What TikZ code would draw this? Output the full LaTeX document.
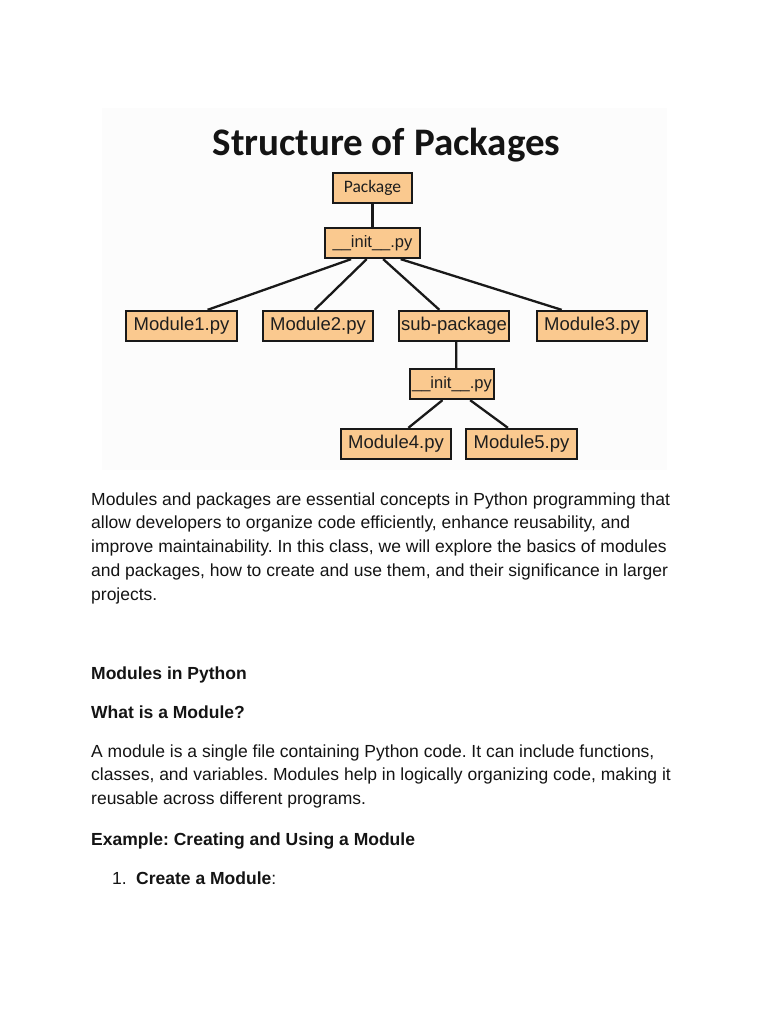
\documentclass[tikz,border=0pt]{standalone}
\usepackage{fontspec}
\setmainfont{Liberation Sans}
\newfontfamily\carlito{Carlito}
\usetikzlibrary{calc}
\definecolor{boxfill}{RGB}{250,201,143}
\definecolor{txt}{RGB}{20,20,20}
\definecolor{boxtxt}{RGB}{30,30,30}
\frenchspacing
\begin{document}
\begin{tikzpicture}[x=1pt,y=-1pt,
  box/.style={draw=black!90, line width=2.3pt, fill=boxfill, inner sep=0pt, minimum height=30pt, text=boxtxt, font=\fontsize{18.5}{20}\selectfont},
  link/.style={line width=2.3pt, draw=black!90},
  para/.style={anchor=base west, inner sep=0pt, text=txt, font=\fontsize{17.5}{20}\selectfont},
  head/.style={para, font=\fontsize{17.5}{20}\selectfont\bfseries}]
\useasboundingbox (0,0) rectangle (768,1024);
\fill[white] (0,0) rectangle (768,1024);
\fill[black!1.2] (102,108) rectangle (667,470);
% title
\node[anchor=base, inner sep=0pt, text=txt] (title) at (386.5,156) {\carlito\bfseries\fontsize{39}{44}\selectfont Structure of Packages};
% boxes
\node[box, minimum width=79pt, font=\carlito\fontsize{17.5}{20}\selectfont] (pkg) at (372.5,188) {Package};
\node[box, minimum width=95pt, font=\fontsize{16.5}{18}\selectfont] (init1) at (372.5,243) {\_\_init\_\_.py};
\node[box, minimum width=111pt] (m1) at (181.5,326) {Module1.py};
\node[box, minimum width=110pt] (m2) at (318,326) {Module2.py};
\node[box, minimum width=110pt] (sub) at (454,326) {sub-package};
\node[box, minimum width=110pt] (m3) at (592,326) {Module3.py};
\node[box, minimum width=84pt, font=\fontsize{16.5}{18}\selectfont] (init2) at (452,384) {\_\_init\_\_.py};
\node[box, minimum width=110pt] (m4) at (396,444) {Module4.py};
\node[box, minimum width=111pt] (m5) at (521.5,444) {Module5.py};
% connectors
\draw[link] (pkg.south) -- (init1.north);
\draw[link] ($(init1.south west)!0.28!(init1.south east)$) -- ($(m1.north west)!0.73!(m1.north east)$);
\draw[link] ($(init1.south west)!0.44!(init1.south east)$) -- ($(m2.north west)!0.47!(m2.north east)$);
\draw[link] ($(init1.south west)!0.61!(init1.south east)$) -- ($(sub.north west)!0.37!(sub.north east)$);
\draw[link] ($(init1.south west)!0.79!(init1.south east)$) -- ($(m3.north west)!0.23!(m3.north east)$);
\draw[link] ($(sub.south west)!0.52!(sub.south east)$) -- ($(init2.north west)!0.55!(init2.north east)$);
\draw[link] ($(init2.south west)!0.39!(init2.south east)$) -- ($(m4.north west)!0.61!(m4.north east)$);
\draw[link] ($(init2.south west)!0.71!(init2.south east)$) -- ($(m5.north west)!0.38!(m5.north east)$);
% text
\node[para] (p1) at (91,505) {Modules and packages are essential concepts in Python programming that};
\node[para] (p2) at (91,528.8) {allow developers to organize code efficiently, enhance reusability, and};
\node[para] (p3) at (91,552.6) {improve maintainability. In this class, we will explore the basics of modules};
\node[para] (p4) at (91,576.4) {and packages, how to create and use them, and their significance in larger};
\node[para] (p5) at (91,600.2) {projects.};
\node[head] (h1) at (91,679) {Modules in Python};
\node[head] (h2) at (91,718) {What is a Module?};
\node[para] (q1) at (91,757) {A module is a single file containing Python code. It can include functions,};
\node[para] (q2) at (91,780.8) {classes, and variables. Modules help in logically organizing code, making it};
\node[para] (q3) at (91,804.6) {reusable across different programs.};
\node[head] (h3) at (91,845) {Example: Creating and Using a Module};
\node[para, anchor=base east] (n1) at (127,884) {1.};
\node[para] (l1) at (136,884) {\textbf{Create a Module}:};
\end{tikzpicture}
\end{document}
